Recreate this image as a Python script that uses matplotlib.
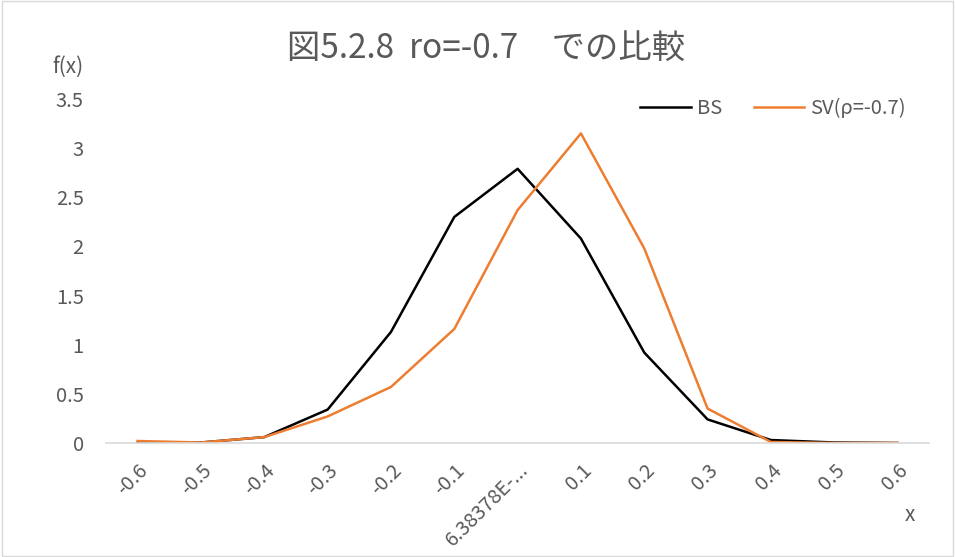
import numpy as np
import matplotlib.pyplot as plt
from matplotlib.patches import Rectangle

plt.rcParams['font.family'] = ['Noto Sans CJK JP', 'DejaVu Sans']

# 分布の比較データ
x_labels = ['-0.6', '-0.5', '-0.4', '-0.3', '-0.2', '-0.1', '6.38378E-...',
            '0.1', '0.2', '0.3', '0.4', '0.5', '0.6']
bs = [0.005, 0.005, 0.06, 0.34, 1.13, 2.30, 2.79, 2.08, 0.92, 0.24, 0.03, 0.005, 0.0]
sv = [0.02, 0.005, 0.06, 0.27, 0.57, 1.16, 2.37, 3.15, 1.98, 0.35, 0.01, 0.0, 0.0]

grey = '#595959'

fig = plt.figure(figsize=(9.55, 5.57), dpi=100)
ax = fig.add_axes([0.111, 0.2047, 0.862, 0.6175])

pos = np.arange(len(x_labels))
ax.plot(pos, bs, color='black', lw=1.8, label='BS')
ax.plot(pos, sv, color='#ED7D31', lw=1.8, label='SV(ρ=-0.7)')

ax.set_xlim(-0.5, len(x_labels) - 0.5)
ax.set_ylim(0, 3.5)
ax.set_yticks(np.arange(0, 3.51, 0.5))
ax.set_yticklabels(['0', '0.5', '1', '1.5', '2', '2.5', '3', '3.5'])
ax.set_xticks(pos)
ax.set_xticklabels(x_labels, rotation=45, ha='right', rotation_mode='anchor')

for s in ['top', 'right', 'left']:
    ax.spines[s].set_visible(False)
ax.spines['bottom'].set_color('#D9D9D9')
ax.spines['bottom'].set_linewidth(1.2)
ax.tick_params(axis='both', length=0, colors=grey, labelsize=14.5)
ax.tick_params(axis='y', pad=16)
ax.tick_params(axis='x', pad=12)

fig.text(0.509, 0.913, '図5.2.8  ro=-0.7　での比較', ha='center', va='center',
         fontsize=24, color=grey)
fig.text(0.071, 0.88, 'f(x)', ha='center', va='center', fontsize=15, color=grey)
fig.text(0.953, 0.075, 'x', ha='center', va='center', fontsize=15, color=grey)

leg = ax.legend(loc='upper right', bbox_to_anchor=(0.994, 1.055), ncol=2, frameon=False,
                fontsize=14.5, handlelength=2.5, columnspacing=1.6, handletextpad=0.3)
for t in leg.get_texts():
    t.set_color(grey)

fig.patches.append(Rectangle((0.002, 0.002), 0.996, 0.996, transform=fig.transFigure,
                             fill=False, edgecolor='#D9D9D9', lw=1))

fig.savefig('out.png', dpi=100)
